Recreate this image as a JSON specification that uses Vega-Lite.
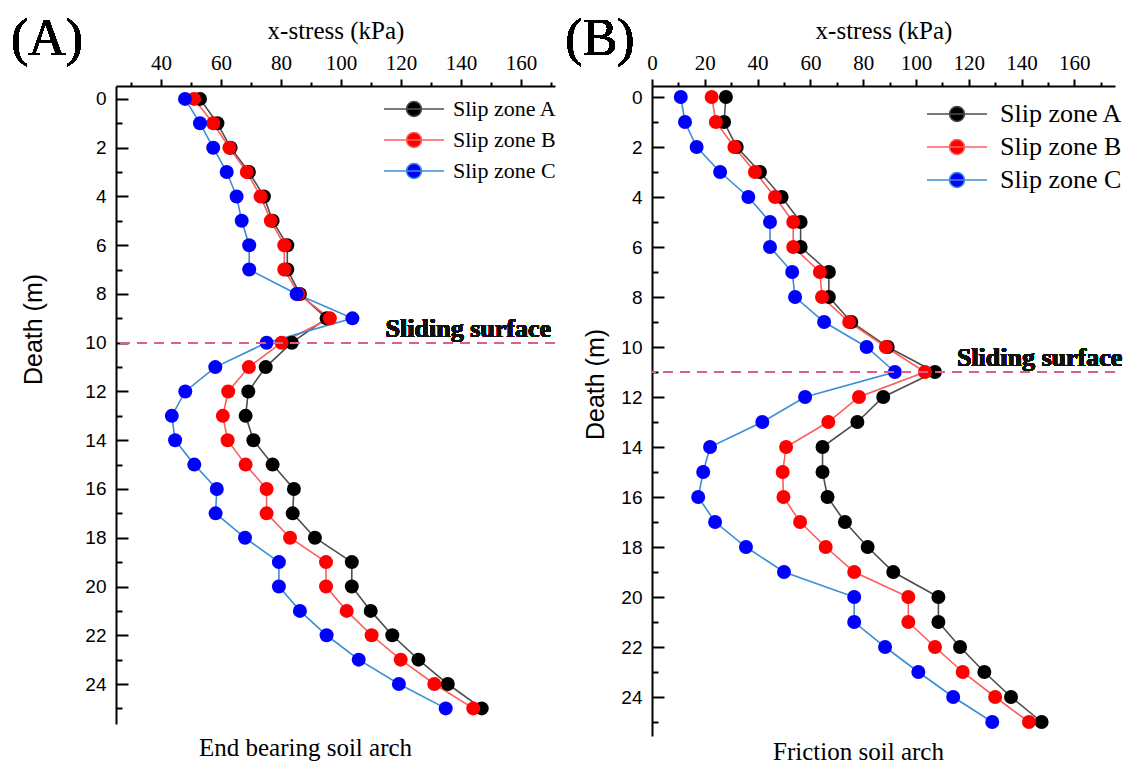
{
  "$schema": "https://vega.github.io/schema/vega-lite/v6.json",
  "background": "white",
  "padding": {"left": 10, "top": 12, "right": 0, "bottom": 0},
  "datasets": {
    "endBearing": [
      {"zone": "Slip zone A", "depth": 0, "stress": 53.0}, {"zone": "Slip zone A", "depth": 1, "stress": 58.8}, {"zone": "Slip zone A", "depth": 2, "stress": 63.2}, {"zone": "Slip zone A", "depth": 3, "stress": 69.3}, {"zone": "Slip zone A", "depth": 4, "stress": 74.3}, {"zone": "Slip zone A", "depth": 5, "stress": 77.2}, {"zone": "Slip zone A", "depth": 6, "stress": 82.1}, {"zone": "Slip zone A", "depth": 7, "stress": 82.1}, {"zone": "Slip zone A", "depth": 8, "stress": 86.3}, {"zone": "Slip zone A", "depth": 9, "stress": 95.2}, {"zone": "Slip zone A", "depth": 10, "stress": 83.6}, {"zone": "Slip zone A", "depth": 11, "stress": 74.9}, {"zone": "Slip zone A", "depth": 12, "stress": 69.1}, {"zone": "Slip zone A", "depth": 13, "stress": 68.2}, {"zone": "Slip zone A", "depth": 14, "stress": 70.8}, {"zone": "Slip zone A", "depth": 15, "stress": 77.2}, {"zone": "Slip zone A", "depth": 16, "stress": 84.3}, {"zone": "Slip zone A", "depth": 17, "stress": 83.9}, {"zone": "Slip zone A", "depth": 18, "stress": 91.3}, {"zone": "Slip zone A", "depth": 19, "stress": 103.6}, {"zone": "Slip zone A", "depth": 20, "stress": 103.6}, {"zone": "Slip zone A", "depth": 21, "stress": 109.9}, {"zone": "Slip zone A", "depth": 22, "stress": 117.1}, {"zone": "Slip zone A", "depth": 23, "stress": 125.8}, {"zone": "Slip zone A", "depth": 24, "stress": 135.6}, {"zone": "Slip zone A", "depth": 25, "stress": 146.9},
      {"zone": "Slip zone B", "depth": 0, "stress": 51.0}, {"zone": "Slip zone B", "depth": 1, "stress": 57.4}, {"zone": "Slip zone B", "depth": 2, "stress": 62.8}, {"zone": "Slip zone B", "depth": 3, "stress": 68.6}, {"zone": "Slip zone B", "depth": 4, "stress": 73.2}, {"zone": "Slip zone B", "depth": 5, "stress": 76.6}, {"zone": "Slip zone B", "depth": 6, "stress": 81.1}, {"zone": "Slip zone B", "depth": 7, "stress": 81.1}, {"zone": "Slip zone B", "depth": 8, "stress": 85.8}, {"zone": "Slip zone B", "depth": 9, "stress": 96.3}, {"zone": "Slip zone B", "depth": 10, "stress": 80.2}, {"zone": "Slip zone B", "depth": 11, "stress": 69.3}, {"zone": "Slip zone B", "depth": 12, "stress": 62.4}, {"zone": "Slip zone B", "depth": 13, "stress": 60.6}, {"zone": "Slip zone B", "depth": 14, "stress": 62.2}, {"zone": "Slip zone B", "depth": 15, "stress": 68.2}, {"zone": "Slip zone B", "depth": 16, "stress": 75.2}, {"zone": "Slip zone B", "depth": 17, "stress": 75.2}, {"zone": "Slip zone B", "depth": 18, "stress": 83.0}, {"zone": "Slip zone B", "depth": 19, "stress": 95.0}, {"zone": "Slip zone B", "depth": 20, "stress": 95.0}, {"zone": "Slip zone B", "depth": 21, "stress": 101.9}, {"zone": "Slip zone B", "depth": 22, "stress": 110.2}, {"zone": "Slip zone B", "depth": 23, "stress": 119.9}, {"zone": "Slip zone B", "depth": 24, "stress": 131.1}, {"zone": "Slip zone B", "depth": 25, "stress": 144.1},
      {"zone": "Slip zone C", "depth": 0, "stress": 48.0}, {"zone": "Slip zone C", "depth": 1, "stress": 53.0}, {"zone": "Slip zone C", "depth": 2, "stress": 57.4}, {"zone": "Slip zone C", "depth": 3, "stress": 61.9}, {"zone": "Slip zone C", "depth": 4, "stress": 65.2}, {"zone": "Slip zone C", "depth": 5, "stress": 66.9}, {"zone": "Slip zone C", "depth": 6, "stress": 69.4}, {"zone": "Slip zone C", "depth": 7, "stress": 69.4}, {"zone": "Slip zone C", "depth": 8, "stress": 85.2}, {"zone": "Slip zone C", "depth": 9, "stress": 103.8}, {"zone": "Slip zone C", "depth": 10, "stress": 75.2}, {"zone": "Slip zone C", "depth": 11, "stress": 58.1}, {"zone": "Slip zone C", "depth": 12, "stress": 48.1}, {"zone": "Slip zone C", "depth": 13, "stress": 43.6}, {"zone": "Slip zone C", "depth": 14, "stress": 44.7}, {"zone": "Slip zone C", "depth": 15, "stress": 51.1}, {"zone": "Slip zone C", "depth": 16, "stress": 58.6}, {"zone": "Slip zone C", "depth": 17, "stress": 58.2}, {"zone": "Slip zone C", "depth": 18, "stress": 68.0}, {"zone": "Slip zone C", "depth": 19, "stress": 79.3}, {"zone": "Slip zone C", "depth": 20, "stress": 79.3}, {"zone": "Slip zone C", "depth": 21, "stress": 86.3}, {"zone": "Slip zone C", "depth": 22, "stress": 95.2}, {"zone": "Slip zone C", "depth": 23, "stress": 105.9}, {"zone": "Slip zone C", "depth": 24, "stress": 119.3}, {"zone": "Slip zone C", "depth": 25, "stress": 134.9}
    ],
    "friction": [
      {"zone": "Slip zone A", "depth": 0, "stress": 28.0}, {"zone": "Slip zone A", "depth": 1, "stress": 27.3}, {"zone": "Slip zone A", "depth": 2, "stress": 32.1}, {"zone": "Slip zone A", "depth": 3, "stress": 40.9}, {"zone": "Slip zone A", "depth": 4, "stress": 49.1}, {"zone": "Slip zone A", "depth": 5, "stress": 56.3}, {"zone": "Slip zone A", "depth": 6, "stress": 56.3}, {"zone": "Slip zone A", "depth": 7, "stress": 67.0}, {"zone": "Slip zone A", "depth": 8, "stress": 67.0}, {"zone": "Slip zone A", "depth": 9, "stress": 75.5}, {"zone": "Slip zone A", "depth": 10, "stress": 89.3}, {"zone": "Slip zone A", "depth": 11, "stress": 107.2}, {"zone": "Slip zone A", "depth": 12, "stress": 87.6}, {"zone": "Slip zone A", "depth": 13, "stress": 77.8}, {"zone": "Slip zone A", "depth": 14, "stress": 64.6}, {"zone": "Slip zone A", "depth": 15, "stress": 64.6}, {"zone": "Slip zone A", "depth": 16, "stress": 66.5}, {"zone": "Slip zone A", "depth": 17, "stress": 73.1}, {"zone": "Slip zone A", "depth": 18, "stress": 81.7}, {"zone": "Slip zone A", "depth": 19, "stress": 91.4}, {"zone": "Slip zone A", "depth": 20, "stress": 108.5}, {"zone": "Slip zone A", "depth": 21, "stress": 108.5}, {"zone": "Slip zone A", "depth": 22, "stress": 116.7}, {"zone": "Slip zone A", "depth": 23, "stress": 125.9}, {"zone": "Slip zone A", "depth": 24, "stress": 136.0}, {"zone": "Slip zone A", "depth": 25, "stress": 147.6},
      {"zone": "Slip zone B", "depth": 0, "stress": 22.6}, {"zone": "Slip zone B", "depth": 1, "stress": 24.2}, {"zone": "Slip zone B", "depth": 2, "stress": 31.2}, {"zone": "Slip zone B", "depth": 3, "stress": 39.0}, {"zone": "Slip zone B", "depth": 4, "stress": 46.6}, {"zone": "Slip zone B", "depth": 5, "stress": 53.5}, {"zone": "Slip zone B", "depth": 6, "stress": 53.5}, {"zone": "Slip zone B", "depth": 7, "stress": 63.6}, {"zone": "Slip zone B", "depth": 8, "stress": 64.4}, {"zone": "Slip zone B", "depth": 9, "stress": 74.7}, {"zone": "Slip zone B", "depth": 10, "stress": 88.6}, {"zone": "Slip zone B", "depth": 11, "stress": 103.4}, {"zone": "Slip zone B", "depth": 12, "stress": 78.4}, {"zone": "Slip zone B", "depth": 13, "stress": 66.8}, {"zone": "Slip zone B", "depth": 14, "stress": 50.8}, {"zone": "Slip zone B", "depth": 15, "stress": 49.5}, {"zone": "Slip zone B", "depth": 16, "stress": 49.8}, {"zone": "Slip zone B", "depth": 17, "stress": 56.1}, {"zone": "Slip zone B", "depth": 18, "stress": 65.8}, {"zone": "Slip zone B", "depth": 19, "stress": 76.6}, {"zone": "Slip zone B", "depth": 20, "stress": 97.1}, {"zone": "Slip zone B", "depth": 21, "stress": 97.1}, {"zone": "Slip zone B", "depth": 22, "stress": 107.2}, {"zone": "Slip zone B", "depth": 23, "stress": 117.7}, {"zone": "Slip zone B", "depth": 24, "stress": 130.0}, {"zone": "Slip zone B", "depth": 25, "stress": 142.8},
      {"zone": "Slip zone C", "depth": 0, "stress": 10.9}, {"zone": "Slip zone C", "depth": 1, "stress": 12.5}, {"zone": "Slip zone C", "depth": 2, "stress": 16.9}, {"zone": "Slip zone C", "depth": 3, "stress": 25.8}, {"zone": "Slip zone C", "depth": 4, "stress": 36.5}, {"zone": "Slip zone C", "depth": 5, "stress": 44.7}, {"zone": "Slip zone C", "depth": 6, "stress": 44.7}, {"zone": "Slip zone C", "depth": 7, "stress": 53.1}, {"zone": "Slip zone C", "depth": 8, "stress": 54.2}, {"zone": "Slip zone C", "depth": 9, "stress": 65.2}, {"zone": "Slip zone C", "depth": 10, "stress": 81.3}, {"zone": "Slip zone C", "depth": 11, "stress": 92.0}, {"zone": "Slip zone C", "depth": 12, "stress": 58.0}, {"zone": "Slip zone C", "depth": 13, "stress": 41.8}, {"zone": "Slip zone C", "depth": 14, "stress": 22.0}, {"zone": "Slip zone C", "depth": 15, "stress": 19.4}, {"zone": "Slip zone C", "depth": 16, "stress": 17.5}, {"zone": "Slip zone C", "depth": 17, "stress": 23.9}, {"zone": "Slip zone C", "depth": 18, "stress": 35.6}, {"zone": "Slip zone C", "depth": 19, "stress": 50.0}, {"zone": "Slip zone C", "depth": 20, "stress": 76.6}, {"zone": "Slip zone C", "depth": 21, "stress": 76.6}, {"zone": "Slip zone C", "depth": 22, "stress": 88.3}, {"zone": "Slip zone C", "depth": 23, "stress": 100.9}, {"zone": "Slip zone C", "depth": 24, "stress": 114.1}, {"zone": "Slip zone C", "depth": 25, "stress": 128.9}
    ]
  },
  "spacing": 97,
  "bounds": "flush",
  "resolve": {"scale": {"stroke": "independent", "fill": "independent"}},
  "hconcat": [
    {
      "width": 439,
      "height": 638,
      "data": {"name": "endBearing"},
      "title": {"text": "End bearing soil arch", "orient": "bottom", "anchor": "middle", "dx": -30, "offset": 12, "font": "Liberation Serif", "fontSize": 25, "fontWeight": "normal", "color": "#000000"},
      "resolve": {"axis": {"x": "independent", "y": "independent"}},
      "layer": [
        {
          "mark": {"type": "line", "strokeWidth": 1.6},
          "encoding": {
            "x": {"field": "stress", "type": "quantitative", "scale": {"domain": [25, 171.33], "nice": false, "zero": false},
              "axis": {"orient": "top", "title": "x-stress (kPa)", "values": [30, 40, 50, 60, 70, 80, 90, 100, 110, 120, 130, 140, 150, 160, 170],
                "labelExpr": "datum.value % 20 == 0 ? format(datum.value, 'd') : ''", "labelOverlap": false, "labelFlush": false,
                "tickSize": {"condition": {"test": "datum.value % 20 == 0", "value": 7}, "value": 4}}},
            "y": {"field": "depth", "type": "quantitative", "scale": {"domain": [-0.53, 25.64], "reverse": true, "nice": false, "zero": false},
              "axis": {"orient": "left", "title": "Death (m)", "titleY": 243, "titlePadding": 38, "values": [0, 1, 2, 3, 4, 5, 6, 7, 8, 9, 10, 11, 12, 13, 14, 15, 16, 17, 18, 19, 20, 21, 22, 23, 24, 25],
                "labelExpr": "datum.value % 2 == 0 ? format(datum.value, 'd') : ''", "labelOverlap": false,
                "tickSize": {"condition": {"test": "datum.value % 2 == 0", "value": -12}, "value": -6},
                "labelPadding": 22}},
            "stroke": {"field": "zone", "type": "nominal", "scale": {"domain": ["Slip zone A", "Slip zone B", "Slip zone C"], "range": ["#4d4d4d", "#ff5c5c", "#3a8ed6"]},
              "legend": {"orient": "none", "legendX": 287, "legendY": 12, "labelFontSize": 22, "labelOffset": 28, "rowPadding": 9}},
            "order": {"field": "depth", "type": "quantitative"}
          }
        },
        {
          "mark": {"type": "point", "filled": true, "size": 196, "opacity": 1},
          "encoding": {
            "x": {"field": "stress", "type": "quantitative", "axis": null},
            "y": {"field": "depth", "type": "quantitative", "axis": null},
            "fill": {"field": "zone", "type": "nominal", "scale": {"domain": ["Slip zone A", "Slip zone B", "Slip zone C"], "range": ["#000000", "#ff0000", "#0000ff"]},
              "legend": {"orient": "none", "legendX": 287, "legendY": 12, "labelFontSize": 22, "labelOffset": 28, "rowPadding": 9}}
          }
        },
        {
          "mark": {"type": "rule", "stroke": "#dd5f8c", "strokeDash": [10, 7], "strokeWidth": 1.6},
          "encoding": {"y": {"datum": 10, "axis": null}}
        },
        {
          "mark": {"type": "text", "text": "Sliding surface", "font": "Liberation Serif", "fontWeight": "bold", "fontSize": 26, "align": "right", "baseline": "alphabetic", "dy": -6, "color": "#111111"},
          "encoding": {"x": {"datum": 170, "axis": null}, "y": {"datum": 10, "axis": null}}
        },
        {
          "mark": {"type": "text", "text": "(A)", "font": "Liberation Serif", "fontSize": 52, "align": "center", "baseline": "middle", "color": "#000000"},
          "encoding": {"x": {"datum": 2, "axis": null}, "y": {"datum": -2.46, "axis": null}}
        }
      ]
    },
    {
      "width": 463,
      "height": 650,
      "data": {"name": "friction"},
      "title": {"text": "Friction soil arch", "orient": "bottom", "anchor": "middle", "dx": -25, "offset": 4, "font": "Liberation Serif", "fontSize": 25, "fontWeight": "normal", "color": "#000000"},
      "resolve": {"axis": {"x": "independent", "y": "independent"}},
      "layer": [
        {
          "mark": {"type": "line", "strokeWidth": 1.6},
          "encoding": {
            "x": {"field": "stress", "type": "quantitative", "scale": {"domain": [0, 175.4], "nice": false, "zero": false},
              "axis": {"orient": "top", "title": "x-stress (kPa)", "values": [0, 10, 20, 30, 40, 50, 60, 70, 80, 90, 100, 110, 120, 130, 140, 150, 160, 170],
                "labelExpr": "datum.value % 20 == 0 ? format(datum.value, 'd') : ''", "labelOverlap": false, "labelFlush": false,
                "tickSize": {"condition": {"test": "datum.value % 20 == 0", "value": 7}, "value": 4}}},
            "y": {"field": "depth", "type": "quantitative", "scale": {"domain": [-0.44, 25.56], "reverse": true, "nice": false, "zero": false},
              "axis": {"orient": "left", "title": "Death (m)", "titleY": 298, "titlePadding": 12, "values": [0, 1, 2, 3, 4, 5, 6, 7, 8, 9, 10, 11, 12, 13, 14, 15, 16, 17, 18, 19, 20, 21, 22, 23, 24, 25],
                "labelExpr": "datum.value % 2 == 0 ? format(datum.value, 'd') : ''", "labelOverlap": false,
                "tickSize": {"condition": {"test": "datum.value % 2 == 0", "value": -12}, "value": -6},
                "labelPadding": 22}},
            "stroke": {"field": "zone", "type": "nominal", "scale": {"domain": ["Slip zone A", "Slip zone B", "Slip zone C"], "range": ["#4d4d4d", "#ff5c5c", "#3a8ed6"]},
              "legend": {"orient": "none", "legendX": 292, "legendY": 15, "labelFontSize": 26, "labelOffset": 30, "rowPadding": 7}},
            "order": {"field": "depth", "type": "quantitative"}
          }
        },
        {
          "mark": {"type": "point", "filled": true, "size": 196, "opacity": 1},
          "encoding": {
            "x": {"field": "stress", "type": "quantitative", "axis": null},
            "y": {"field": "depth", "type": "quantitative", "axis": null},
            "fill": {"field": "zone", "type": "nominal", "scale": {"domain": ["Slip zone A", "Slip zone B", "Slip zone C"], "range": ["#000000", "#ff0000", "#0000ff"]},
              "legend": {"orient": "none", "legendX": 292, "legendY": 15, "labelFontSize": 26, "labelOffset": 30, "rowPadding": 7}}
          }
        },
        {
          "mark": {"type": "rule", "stroke": "#dd5f8c", "strokeDash": [10, 7], "strokeWidth": 1.6},
          "encoding": {"y": {"datum": 11, "axis": null}}
        },
        {
          "mark": {"type": "text", "text": "Sliding surface", "font": "Liberation Serif", "fontWeight": "bold", "fontSize": 26, "align": "left", "baseline": "alphabetic", "dy": -6, "color": "#111111"},
          "encoding": {"x": {"datum": 115.5, "axis": null}, "y": {"datum": 11, "axis": null}}
        },
        {
          "mark": {"type": "text", "text": "(B)", "font": "Liberation Serif", "fontSize": 52, "align": "center", "baseline": "middle", "color": "#000000"},
          "encoding": {"x": {"datum": -19.7, "axis": null}, "y": {"datum": -2.32, "axis": null}}
        }
      ]
    }
  ],
  "config": {
    "view": {"stroke": null},
    "axis": {
      "grid": false,
      "domainColor": "#000000",
      "domainWidth": 2,
      "tickColor": "#000000",
      "tickWidth": 2,
      "labelColor": "#000000",
      "titleColor": "#000000",
      "labelFont": "Liberation Serif",
      "labelFontSize": 21,
      "titleFont": "Liberation Serif",
      "titleFontSize": 25,
      "titleFontWeight": "normal"
    },
    "axisTop": {"labelPadding": 6, "titlePadding": 9},
    "axisLeft": {"labelFont": "Liberation Sans", "labelFontSize": 19, "titleFont": "Liberation Sans", "titleFontSize": 25},
    "legend": {
      "title": null,
      "padding": 0,
      "labelFont": "Liberation Serif",
      "labelColor": "#000000",
      "symbolType": "M-4,0H4M-1,0A1,1,0,1,1,1,0A1,1,0,1,1,-1,0Z",
      "symbolSize": 225,
      "symbolStrokeWidth": 1.5
    }
  }
}
